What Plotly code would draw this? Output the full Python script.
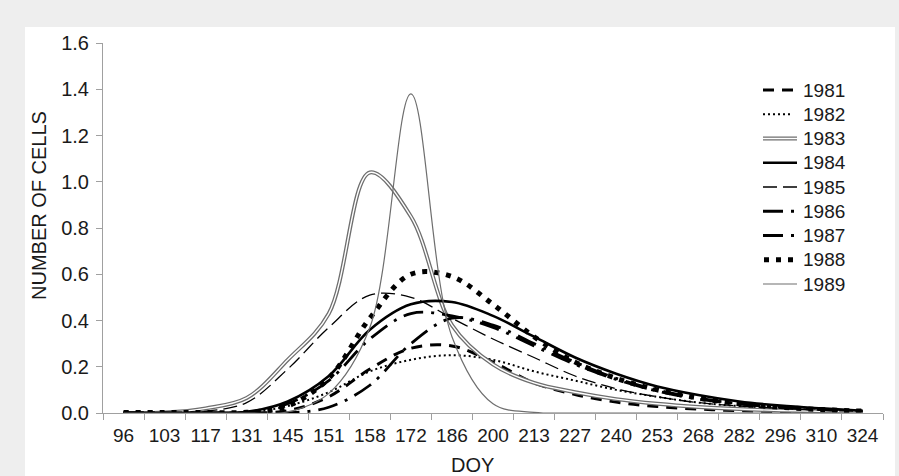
import plotly.graph_objects as go

# ---------------- data ----------------
doy = ["96", "103", "117", "131", "145", "151", "158", "172", "186", "200",
       "213", "227", "240", "253", "268", "282", "296", "310", "324"]

y1981 = [0, 0, 0, 0, 0.01, 0.07, 0.19, 0.28, 0.29, 0.22, 0.13, 0.08, 0.047, 0.028, 0.017, 0.01, 0.006, 0.004, 0.002]
y1982 = [0, 0, 0, 0.002, 0.03, 0.09, 0.18, 0.23, 0.25, 0.23, 0.18, 0.14, 0.10, 0.07, 0.045, 0.03, 0.02, 0.012, 0.007]
y1983 = [0, 0.002, 0.02, 0.065, 0.23, 0.43, 1.04, 0.85, 0.38, 0.21, 0.13, 0.09, 0.06, 0.04, 0.026, 0.017, 0.011, 0.007, 0.004]
y1984 = [0, 0, 0.001, 0.005, 0.05, 0.16, 0.36, 0.47, 0.48, 0.42, 0.33, 0.24, 0.17, 0.115, 0.078, 0.05, 0.032, 0.02, 0.01]
y1985 = [0, 0.001, 0.008, 0.045, 0.19, 0.37, 0.51, 0.50, 0.41, 0.32, 0.24, 0.16, 0.105, 0.07, 0.045, 0.03, 0.02, 0.012, 0.007]
y1986 = [0, 0, 0, 0, 0, 0.025, 0.12, 0.30, 0.41, 0.38, 0.30, 0.22, 0.15, 0.10, 0.065, 0.04, 0.025, 0.015, 0.008]
y1987 = [0, 0, 0, 0.003, 0.04, 0.14, 0.32, 0.43, 0.42, 0.37, 0.29, 0.21, 0.145, 0.095, 0.06, 0.04, 0.025, 0.015, 0.008]
y1988 = [0.002, 0.002, 0.002, 0.003, 0.03, 0.15, 0.41, 0.60, 0.59, 0.47, 0.33, 0.22, 0.15, 0.10, 0.065, 0.04, 0.025, 0.015, 0.008]
y1989 = [0, 0, 0, 0, 0.005, 0.085, 0.37, 1.38, 0.33, 0.04, 0.003, 0, 0, 0, 0, 0, 0, 0, 0]

yticks = [0, 0.2, 0.4, 0.6, 0.8, 1.0, 1.2, 1.4, 1.6]
ytick_text = ["0.0", "0.2", "0.4", "0.6", "0.8", "1.0", "1.2", "1.4", "1.6"]

# ---------------- styles ----------------
W, H = 899, 476
L, R, T, B = 103, 16, 43, 63
PW, PH = W - L - R, H - T - B
FONT = "Liberation Sans, Arial, sans-serif"
TXT = "#1a1a1a"
GRAY = "#6e6e6e"


def px2x(px):
    return (px - L) / PW


def py2y(py):
    return (H - B - py) / PH


series = [
    ("1981", y1981, dict(color="black", width=3, dash="11px,8px")),
    ("1982", y1982, dict(color="black", width=2, dash="2px,3px")),
    ("1983", y1983, dict(color=GRAY, width=4)),
    ("1984", y1984, dict(color="black", width=2.6)),
    ("1985", y1985, dict(color="black", width=1.3, dash="14px,6px")),
    ("1986", y1986, dict(color="black", width=2.8, dash="20px,8px,3px,8px")),
    ("1987", y1987, dict(color="black", width=2.8, dash="20px,8px,3px,8px")),
    ("1988", y1988, dict(color="black", width=5, dash="5px,7px")),
    ("1989", y1989, dict(color=GRAY, width=1.2)),
]

fig = go.Figure()
for name, ys, ln in series:
    fig.add_trace(go.Scatter(x=doy, y=ys, mode="lines", name=name,
                             line=dict(shape="spline", **ln), showlegend=False))
    if name == "1983":
        fig.add_trace(go.Scatter(x=doy, y=ys, mode="lines", name=name,
                                 line=dict(shape="spline", color="white", width=1.4),
                                 showlegend=False, hoverinfo="skip"))

shapes = [
    dict(type="rect", xref="paper", yref="paper", layer="below",
         x0=px2x(25), x1=px2x(895), y0=py2y(480), y1=py2y(27),
         fillcolor="white", line=dict(width=0)),
]
annotations = []

# manual legend
leg_y0, leg_dy = 90, 24.25
for i, (name, ys, ln) in enumerate(series):
    yy = py2y(leg_y0 + i * leg_dy)
    x0, x1 = 763, 797
    if name == "1982":
        x1 = 793
    if name == "1988":
        x0, x1 = 764, 793
    if name == "1986" or name == "1987":
        x1 = 798
    shapes.append(dict(type="line", xref="paper", yref="paper", layer="above",
                       x0=px2x(x0), x1=px2x(x1), y0=yy, y1=yy,
                       line=dict(color=ln["color"], width=ln["width"], dash=ln.get("dash", "solid"))))
    if name == "1983":
        shapes.append(dict(type="line", xref="paper", yref="paper", layer="above",
                           x0=px2x(x0), x1=px2x(x1), y0=yy, y1=yy,
                           line=dict(color="white", width=1.4)))
    annotations.append(dict(text=name, xref="paper", yref="paper", x=px2x(801), y=yy,
                            xanchor="left", yanchor="middle", showarrow=False,
                            font=dict(size=19, color=TXT, family=FONT)))

# axis titles
annotations.append(dict(text="DOY", xref="paper", yref="paper", x=px2x(472), y=py2y(465),
                        xanchor="center", yanchor="middle", showarrow=False,
                        font=dict(size=20, color=TXT, family=FONT)))
annotations.append(dict(text="NUMBER OF CELLS", xref="paper", yref="paper", x=px2x(39), y=py2y(206),
                        xanchor="center", yanchor="middle", showarrow=False, textangle=-90,
                        font=dict(size=20, color=TXT, family=FONT)))

fig.update_layout(
    width=W, height=H,
    margin=dict(l=L, r=R, t=T, b=B, autoexpand=False),
    paper_bgcolor="#eeeeee",
    plot_bgcolor="white",
    font=dict(family=FONT, color=TXT, size=19),
    shapes=shapes,
    annotations=annotations,
    showlegend=False,
    xaxis=dict(type="category", range=[-0.5, 18.5], showline=True, linecolor="#a0a0a0",
               linewidth=1, ticks="outside", tickson="boundaries", ticklen=6,
               tickcolor="#a0a0a0", showgrid=False, zeroline=False, tickangle=0,
               tickfont=dict(size=19, color=TXT, family=FONT), ticklabelstandoff=5,
               automargin=False),
    yaxis=dict(range=[0, 1.6], tickvals=yticks, ticktext=ytick_text, showline=True,
               linecolor="#a0a0a0", linewidth=1, ticks="outside", ticklen=6,
               tickcolor="#a0a0a0", showgrid=False, zeroline=False,
               tickfont=dict(size=20, color=TXT, family=FONT), ticklabelstandoff=3,
               automargin=False),
)

fig.write_html(
    "out.html",
    config={"displayModeBar": False},
    post_script="document.body.style.margin='0';document.body.style.overflow='hidden';",
)
